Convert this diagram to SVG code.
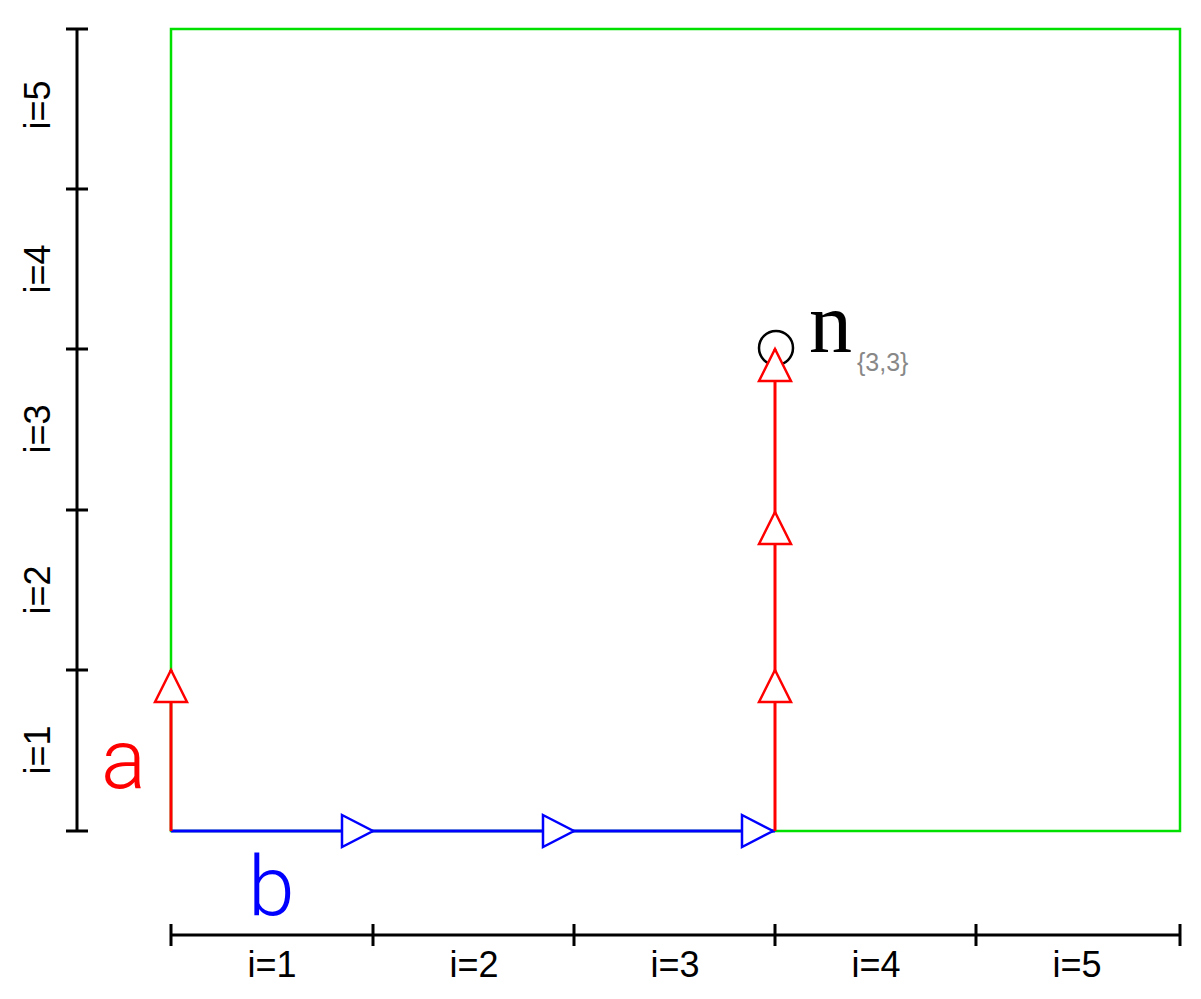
<svg xmlns="http://www.w3.org/2000/svg" width="1201" height="999" viewBox="0 0 1201 999">
<style>
.ax{stroke:#000;stroke-width:3;fill:none}
.lbl{font-family:"Liberation Sans",Arial,sans-serif;font-size:36px;fill:#000}
.red{stroke:#ff0000;stroke-width:3;fill:none}
.blue{stroke:#0000ff;stroke-width:3;fill:none}
.thin{font-family:Roboto,"Liberation Sans",sans-serif;font-weight:300;font-size:84px}
</style>
<defs>
<path id="ahR" d="M-31,-16 L0,0 L-31,16 Z" fill="#fff" stroke="#0000ff" stroke-width="2.5"/>
<path id="ahU" d="M-16,32 L0,0 L16,32 Z" fill="#fff" stroke="#ff0000" stroke-width="2.5"/>
</defs>
<rect width="1201" height="999" fill="#fff"/>
<g id="frame">
<rect x="171" y="29" width="1009" height="802" fill="none" stroke="#00e000" stroke-width="2.5"/>
</g>
<g id="left-axis">
<line class="ax" x1="77" y1="29" x2="77" y2="831"/>
<path class="ax" d="M66,29H88M66,189H88M66,349H88M66,510H88M66,670H88M66,831H88"/>
<text class="lbl" transform="translate(50,105) rotate(-90)" text-anchor="middle">i=5</text>
<text class="lbl" transform="translate(50,269) rotate(-90)" text-anchor="middle">i=4</text>
<text class="lbl" transform="translate(50,429) rotate(-90)" text-anchor="middle">i=3</text>
<text class="lbl" transform="translate(50,590) rotate(-90)" text-anchor="middle">i=2</text>
<text class="lbl" transform="translate(50,750) rotate(-90)" text-anchor="middle">i=1</text>
</g>
<g id="bottom-axis">
<line class="ax" x1="171" y1="935" x2="1180" y2="935"/>
<path class="ax" d="M171,924V946M373,924V946M574,924V946M775,924V946M976,924V946M1180,924V946"/>
<text class="lbl" x="272" y="977" text-anchor="middle">i=1</text>
<text class="lbl" x="474" y="977" text-anchor="middle">i=2</text>
<text class="lbl" x="675" y="977" text-anchor="middle">i=3</text>
<text class="lbl" x="876" y="977" text-anchor="middle">i=4</text>
<text class="lbl" x="1077" y="977" text-anchor="middle">i=5</text>
</g>
<g id="connectors">
<line class="blue" x1="171" y1="831" x2="775" y2="831"/>
<use href="#ahR" x="373" y="831"/>
<use href="#ahR" x="574" y="831"/>
<use href="#ahR" x="773" y="831"/>
<line class="red" x1="171" y1="831" x2="171" y2="670"/>
<use href="#ahU" x="171" y="670"/>
<line class="red" x1="775" y1="831" x2="775" y2="349"/>
<use href="#ahU" x="775" y="670"/>
<use href="#ahU" x="775" y="512"/>
</g>
<g id="node-n33">
<circle cx="776" cy="348" r="17" fill="none" stroke="#000" stroke-width="2.5"/>
<use href="#ahU" x="775" y="349"/>
<text x="809" y="352" font-family="'Liberation Serif','Times New Roman',serif" font-size="86" fill="#000">n</text>
<text x="857" y="371" font-family="'Liberation Sans',Arial,sans-serif" font-size="25" fill="#888">{3,3}</text>
</g>
<g id="label-a">
<text class="thin" x="101" y="788" fill="#ff0000">a</text>
</g>
<g id="label-b">
<text class="thin" x="248" y="915" fill="#0000ff">b</text>
</g>
</svg>
